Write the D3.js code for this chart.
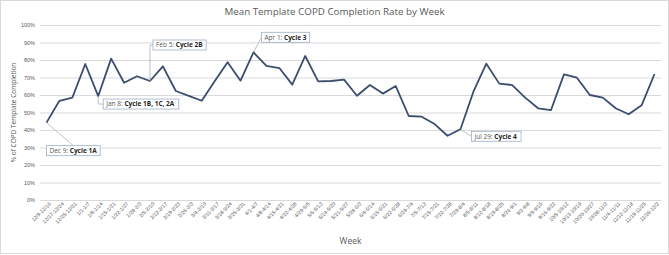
<!DOCTYPE html>
<html>
<head>
<meta charset="utf-8">
<script src="https://cdn.jsdelivr.net/npm/d3@7"></script>
<style>
  body { margin: 0; background: #fff; }
  svg { display: block; font-family: "Open Sans", "Liberation Sans", sans-serif; }
</style>
</head>
<body>
<svg width="669" height="255"></svg>
<script>
// weekly categories
const weeks = ["12/9-12/16", "12/17-12/24", "12/25-12/31", "1/1-1/7", "1/8-1/14", "1/15-1/21",
  "1/22-1/27", "1/28-2/3", "2/5-2/10", "2/12-2/17", "2/19-2/23", "2/26-3/3", "3/4-3/10",
  "3/11-3/17", "3/18-3/24", "3/25-3/31", "4/1-4/7", "4/8-4/14", "4/15-4/21", "4/22-4/28",
  "4/29-5/5", "5/6-5/13", "5/14-5/20", "5/21-5/27", "5/28-6/3", "6/4-6/14", "6/15-6/21",
  "6/22-6/28", "6/29-7/4", "7/5-7/13", "7/15-7/21", "7/22-7/28", "7/29-8/4", "8/5-8/11",
  "8/12-8/18", "8/19-8/25", "8/26-9/1", "9/2-9/8", "9/9-9/15", "9/16-9/22", "10/5-10/12",
  "10/13-10/19", "10/20-10/27", "10/28-11/3", "11/4-11/11", "11/12-11/18", "11/19-11/25",
  "11/26-12/2"];

// mean completion rate (%)
const rates = [44.2, 56.7, 58.5, 77.7, 59.4, 80.8, 67.0, 70.7, 68.0, 76.4, 62.3, 59.5, 56.7,
  67.8, 78.7, 68.2, 84.4, 76.6, 75.4, 65.9, 82.3, 67.8, 68.0, 68.8, 59.6, 65.7, 60.8, 65.1,
  48.0, 47.6, 43.4, 36.7, 40.4, 61.9, 77.9, 66.5, 65.7, 58.5, 52.4, 51.4, 71.8, 69.9, 60.0,
  58.5, 52.4, 49.0, 54.1, 72.0];

const yTicks = [0, 10, 20, 30, 40, 50, 60, 70, 80, 90, 100];

// callouts: week index, date text, cycle text, box offset from the point, leader style
const notes = [
  { i: 0, date: "Dec 9: ", cycle: "Cycle 1A", dx: 0, dy: 23, leader: "top" },
  { i: 4, date: "Jan 8: ", cycle: "Cycle 1B, 1C, 2A", dx: 5, dy: 3, leader: "elbow" },
  { i: 8, date: "Feb 5: ", cycle: "Cycle 2B", dx: 3, dy: -41, leader: "elbow" },
  { i: 16, date: "Apr 1: ", cycle: "Cycle 3", dx: 8, dy: -20, leader: "side" },
  { i: 32, date: "Jul 29: ", cycle: "Cycle 4", dx: 11, dy: 2, leader: "side" }
];

const svg = d3.select("svg");
const width = +svg.attr("width");
const height = +svg.attr("height");
const margin = { top: 25, right: 8, bottom: 55, left: 40 };
const innerWidth = width - margin.left - margin.right;
const innerHeight = height - margin.top - margin.bottom;

svg.append("rect")
  .attr("x", 0.5).attr("y", 0.5)
  .attr("width", width - 1).attr("height", height - 2)
  .attr("fill", "#fff").attr("stroke", "#d9d9d9");

const xScale = d3.scalePoint()
  .domain(weeks)
  .range([0, innerWidth])
  .padding(0.5);

const yScale = d3.scaleLinear()
  .domain([0, 100])
  .range([innerHeight, 0]);

const g = svg.append("g")
  .attr("transform", `translate(${margin.left}, ${margin.top})`);

// gridlines + y labels
const yAxis = d3.axisLeft(yScale)
  .tickValues(yTicks)
  .tickSize(-innerWidth)
  .tickFormat(d => d + "%");
g.append("g").call(yAxis)
  .call(s => s.select(".domain").remove())
  .call(s => s.selectAll("line").attr("stroke", "#d9d9d9"))
  .call(s => s.selectAll("text")
    .attr("x", -5)
    .style("fill", "#595959")
    .style("font-size", "5.5px"));

// x axis labels
const xAxis = d3.axisBottom(xScale).tickSize(0);
g.append("g").call(xAxis)
  .attr("transform", `translate(0, ${innerHeight})`)
  .call(s => s.select(".domain").attr("stroke", "#d9d9d9"))
  .call(s => s.selectAll("text")
    .attr("text-anchor", "end")
    .style("fill", "#595959")
    .style("font-size", "5.2px")
    .attr("transform", "translate(3, 3) rotate(-45)")
    .attr("dy", "0.35em")
    .attr("y", 0));

const line = d3.line()
  .x((d, i) => xScale(weeks[i]))
  .y(d => yScale(d));

g.append("path")
  .datum(rates)
  .attr("fill", "none")
  .attr("stroke", "#3b4e6e")
  .attr("stroke-width", 1.8)
  .attr("stroke-linejoin", "round")
  .attr("d", line);

// callouts
const notesG = g.append("g");
notes.forEach(n => {
  const px = xScale(weeks[n.i]);
  const py = yScale(rates[n.i]);
  const bx = px + n.dx, by = py + n.dy, bh = 10;
  const leaderG = notesG.append("g");
  const box = notesG.append("rect");
  const t = notesG.append("text")
    .attr("x", bx + 3)
    .attr("y", by + bh / 2)
    .attr("dy", "0.35em")
    .style("font-size", "6.5px");
  t.append("tspan").style("fill", "#595959").text(n.date);
  t.append("tspan").style("fill", "#262626").attr("font-weight", "bold").text(n.cycle);
  const bw = t.node().getBBox().width + 6;
  box.attr("x", bx).attr("y", by).attr("width", bw).attr("height", bh)
    .attr("fill", "#fff").attr("stroke", "#9db0c8").attr("stroke-width", 0.8);
  let d;
  if (n.leader === "top") d = `M${px},${py}L${bx + bw / 2},${by}`;
  else if (n.leader === "elbow") d = `M${px},${py}L${px},${by + bh / 2}L${bx},${by + bh / 2}`;
  else d = `M${px},${py}L${bx},${by + bh / 2}`;
  leaderG.append("path")
    .attr("d", d)
    .attr("stroke", "#a6a6a6").attr("stroke-width", 0.7).attr("fill", "none");
});

svg.append("text")
  .attr("x", width / 2).attr("y", 15)
  .attr("text-anchor", "middle")
  .style("fill", "#595959")
  .style("font-size", "9.8px")
  .text("Mean Template COPD Completion Rate by Week");

svg.append("text")
  .attr("x", margin.left + innerWidth / 2).attr("y", 244)
  .attr("text-anchor", "middle")
  .style("fill", "#595959")
  .style("font-size", "8.5px")
  .text("Week");

svg.append("text")
  .attr("transform", `translate(16, ${margin.top + innerHeight / 2}) rotate(-90)`)
  .attr("text-anchor", "middle")
  .style("fill", "#595959")
  .style("font-size", "6.5px")
  .text("% of COPD Template Completion");
</script>
</body>
</html>
